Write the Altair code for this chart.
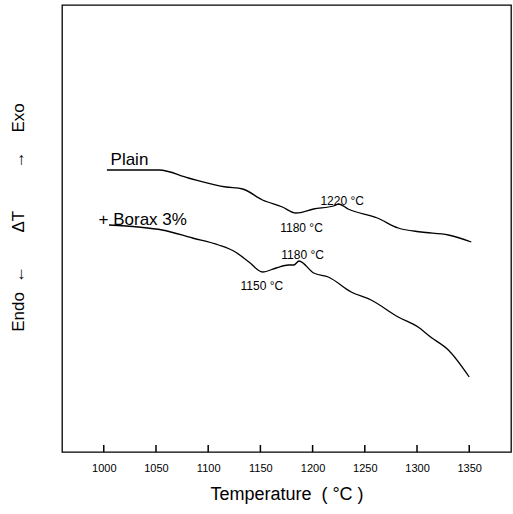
import altair as alt
import pandas as pd

# Plain sample DTA curve (temperature °C, signal in arbitrary units)
plain_T = [1003, 1053, 1081, 1117, 1133, 1152, 1171, 1184, 1201, 1220, 1225, 1234, 1262, 1282, 1304, 1330, 1352]
plain_v = [282, 282, 274, 265, 263, 252, 245, 239, 243, 246, 248, 243, 234, 224, 220, 217, 210]

# + Borax 3% curve
borax_T = [1005, 1033, 1056, 1085, 1110, 1126, 1139, 1152, 1165, 1177, 1182, 1187, 1201, 1215, 1237, 1256, 1282, 1301, 1313, 1330, 1350]
borax_v = [227, 225, 222, 214, 207, 200, 190, 180, 184, 187, 187, 191, 179, 175, 160, 152, 135, 125, 115, 102, 75]

tick_values = [1000, 1050, 1100, 1150, 1200, 1250, 1300, 1350]

# annotations
ann_text = ["Plain", "+ Borax 3%", "1180 °C", "1220 °C", "1180 °C", "1150 °C"]
ann_T = [1006.5, 995, 1169, 1207.5, 1170, 1131]
ann_v = [287, 227, 220, 247, 193, 162]
ann_size = [17, 17, 12, 12, 12, 12]

FONT = "Liberation Sans"
NB = "\u00a0"

curves = pd.DataFrame(
    {"T": plain_T + borax_T,
     "v": plain_v + borax_v,
     "series": ["Plain"] * len(plain_T) + ["Borax"] * len(borax_T),
     "order": list(range(len(plain_T))) + list(range(len(borax_T)))}
)
ticks = pd.DataFrame({"tick": tick_values})
ann = pd.DataFrame({"text": ann_text, "T": ann_T, "v": ann_v, "size": ann_size})

xscale = alt.Scale(domain=[960, 1390], nice=False, zero=False)
yscale = alt.Scale(domain=[0, 447], nice=False, zero=False)

xtitle = "Temperature" + NB * 2 + "(" + NB + "°C" + NB + ")"
ytitle = "Endo" + NB * 2 + "←" + NB * 7 + "ΔT" + NB * 9 + "→" + NB * 4 + "Exo"

xaxis = alt.Axis(values=tick_values, format="d", ticks=False, domain=False, grid=False,
                 labelFont=FONT, labelFontSize=11, labelPadding=10, labelColor="black",
                 title=xtitle, titleFont=FONT, titleFontSize=18,
                 titleFontWeight="normal", titlePadding=12, titleColor="black")
yaxis = alt.Axis(labels=False, ticks=False, domain=False, grid=False,
                 title=ytitle, titleFont=FONT, titleFontSize=17,
                 titleFontWeight="normal", titleColor="black",
                 titleX=-44, titleY=212, titleAngle=-90, titleAlign="center", titleBaseline="middle")

tick_marks = alt.Chart(ticks).mark_rule(color="black", strokeWidth=1.5).encode(
    x=alt.X("tick:Q", scale=xscale, axis=xaxis),
    y=alt.value(447),
    y2=alt.value(440),
)

lines = alt.Chart(curves).mark_line(color="black", strokeWidth=1.3, interpolate="monotone").encode(
    x=alt.X("T:Q", scale=xscale, axis=xaxis),
    y=alt.Y("v:Q", scale=yscale, axis=yaxis),
    detail="series:N",
    order="order:Q",
)

labels = alt.Chart(ann).mark_text(align="left", baseline="alphabetic", font=FONT, color="black").encode(
    x=alt.X("T:Q", scale=xscale, axis=xaxis),
    y=alt.Y("v:Q", scale=yscale, axis=yaxis),
    text="text:N",
    size=alt.Size("size:Q", scale=None, legend=None),
)

chart = alt.layer(lines, tick_marks, labels).properties(
    width=449, height=447,
    autosize=alt.AutoSizeParams(type="none"),
    padding={"left": 62, "top": 5, "right": 2, "bottom": 62},
    background="white",
).configure_view(stroke="black", strokeWidth=1.3)

chart.save("out.html", embed_options={"renderer": "svg", "actions": False})
